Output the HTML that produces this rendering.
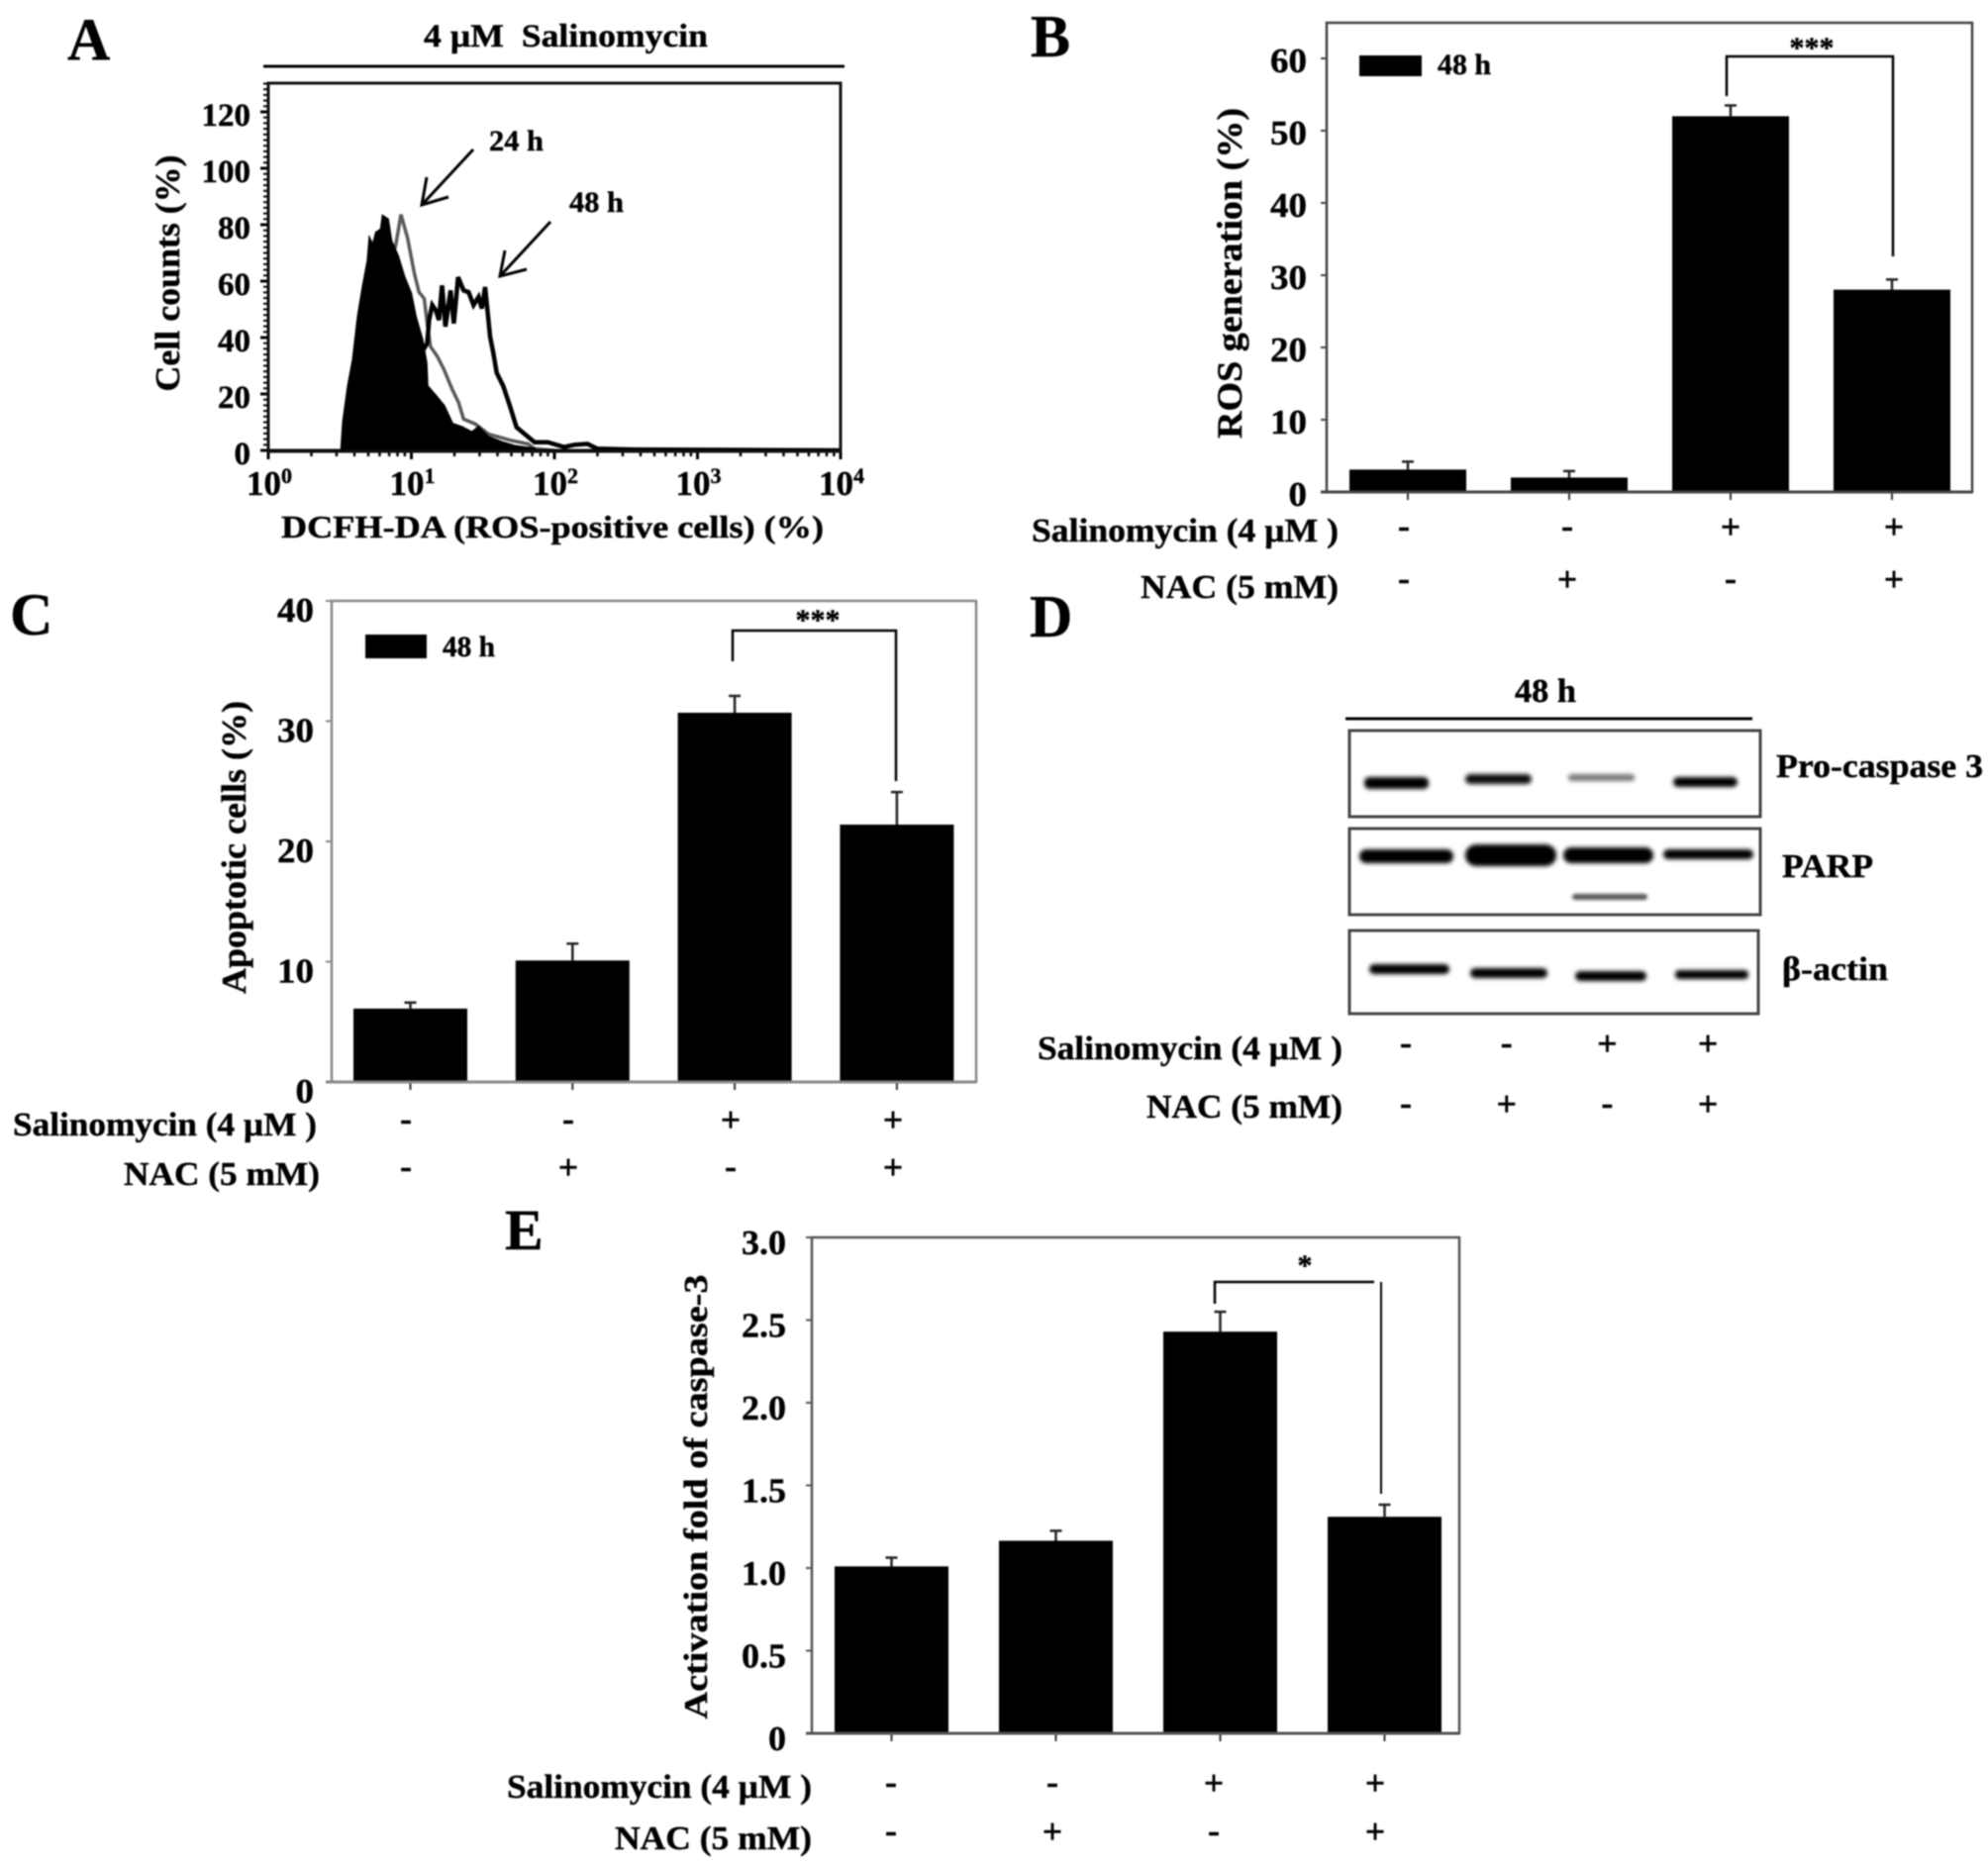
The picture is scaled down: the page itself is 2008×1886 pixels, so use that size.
<!DOCTYPE html>
<html lang="en">
<head>
<meta charset="utf-8">
<title>Salinomycin ROS and apoptosis figure</title>
<style>
html,body{margin:0;padding:0;background:#fff;}
svg{display:block;filter:blur(0.9px);}
text{font-family:"Liberation Serif","DejaVu Serif",serif;font-weight:bold;fill:#000;stroke:#000;stroke-width:0.4px;}
</style>
</head>
<body>
<svg id="figure" xmlns="http://www.w3.org/2000/svg" width="2008" height="1886" viewBox="0 0 2008 1886">
<defs>
<filter id="bandBlur" x="-20%" y="-100%" width="140%" height="300%"><feGaussianBlur stdDeviation="2"/></filter>
<filter id="faintBlur" x="-20%" y="-300%" width="140%" height="700%"><feGaussianBlur stdDeviation="1.5"/></filter>
</defs>
<rect width="2008" height="1886" fill="#fff"/>

<!-- Panel A -->
<g id="panelA">
<text x="68" y="60" font-size="60">A</text>
<text x="428" y="47" font-size="33" textLength="287" lengthAdjust="spacingAndGlyphs">4 µM&#160;&#160;Salinomycin</text>
<line x1="266" x2="853" y1="67" y2="67" stroke="#000" stroke-width="3"/>
<g id="histPlot"></g>
<rect x="271" y="84" width="578" height="372" fill="none" stroke="#111" stroke-width="3"/>
<text transform="rotate(-90 181 276)" x="181" y="276" font-size="35" text-anchor="middle" textLength="239" lengthAdjust="spacingAndGlyphs">Cell counts (%)</text>
<text x="284" y="543" font-size="32" textLength="548" lengthAdjust="spacingAndGlyphs">DCFH-DA (ROS-positive cells) (%)</text>
<text x="494" y="152" font-size="30" textLength="55" lengthAdjust="spacingAndGlyphs">24 h</text>
<text x="575" y="214" font-size="30" textLength="55" lengthAdjust="spacingAndGlyphs">48 h</text>
<g fill="none" stroke="#000" stroke-width="3">
<line x1="478" y1="151" x2="426" y2="207"/><path d="M431 179 L426 207 L453 199"/>
</g>
<g fill="none" stroke="#000" stroke-width="3">
<line x1="556" y1="224" x2="505" y2="279"/><path d="M510 253 L505 279 L532 272"/>
</g>
</g>

<!-- Panel B -->
<g id="panelB">
<text x="1041" y="57" font-size="60">B</text>
<g id="rosPlot"></g>
<rect x="1373" y="56" width="63" height="21" fill="#000"/>
<text x="1452" y="75" font-size="30" textLength="54" lengthAdjust="spacingAndGlyphs">48 h</text>
<path d="M1744 97V57H1912V259" fill="none" stroke="#000" stroke-width="2.5"/>
<text x="1830" y="58" font-size="30" text-anchor="middle">***</text>
<text transform="rotate(-90 1254 276)" x="1254" y="276" font-size="36" text-anchor="middle" textLength="334" lengthAdjust="spacingAndGlyphs">ROS generation (%)</text>
<text x="1042" y="547" font-size="34" textLength="310" lengthAdjust="spacingAndGlyphs">Salinomycin (4 µM )</text>
<text x="1152" y="604" font-size="34" textLength="200" lengthAdjust="spacingAndGlyphs">NAC (5 mM)</text>
</g>

<!-- Panel C -->
<g id="panelC">
<text x="10" y="641" font-size="60">C</text>
<g id="apoPlot"></g>
<rect x="369" y="641" width="62" height="24" fill="#000"/>
<text x="447" y="663" font-size="30" textLength="53" lengthAdjust="spacingAndGlyphs">48 h</text>
<path d="M740 668V637H905V789" fill="none" stroke="#000" stroke-width="2.5"/>
<text x="826" y="636" font-size="30" text-anchor="middle">***</text>
<text transform="rotate(-90 248 856)" x="248" y="856" font-size="35" text-anchor="middle" textLength="296" lengthAdjust="spacingAndGlyphs">Apoptotic cells (%)</text>
<text x="13" y="1147" font-size="34" textLength="307" lengthAdjust="spacingAndGlyphs">Salinomycin (4 µM )</text>
<text x="125" y="1197" font-size="34" textLength="198" lengthAdjust="spacingAndGlyphs">NAC (5 mM)</text>
</g>

<!-- Panel D -->
<g id="panelD">
<text x="1040" y="643" font-size="60">D</text>
<text x="1530" y="709" font-size="34" textLength="62" lengthAdjust="spacingAndGlyphs">48 h</text>
<line x1="1359" x2="1770" y1="726" y2="726" stroke="#000" stroke-width="3"/>
<g id="blot1">
<g filter="url(#bandBlur)">
<rect x="1378" y="785" width="65" height="12" rx="5" fill="#000"/>
<rect x="1480" y="782" width="67" height="10" rx="5" fill="#0a0a0a"/>
<rect x="1584" y="782" width="67" height="7" rx="3" fill="#777"/>
<rect x="1690" y="785" width="65" height="10" rx="5" fill="#000"/>
</g>
<rect x="1363" y="738" width="415" height="87" fill="none" stroke="#444" stroke-width="3"/>
</g>
<g id="blot2">
<g filter="url(#bandBlur)">
<rect x="1373" y="858" width="95" height="14" rx="7" fill="#000"/>
<rect x="1480" y="853" width="92" height="22" rx="11" fill="#000"/>
<rect x="1579" y="856" width="91" height="16" rx="8" fill="#000"/>
<rect x="1680" y="858" width="91" height="10" rx="5" fill="#000"/>
</g>
<rect x="1588" y="903" width="76" height="6" rx="3" fill="#555" filter="url(#faintBlur)"/>
<rect x="1363" y="837" width="415" height="87" fill="none" stroke="#444" stroke-width="3"/>
</g>
<g id="blot3">
<g filter="url(#bandBlur)">
<rect x="1383" y="974" width="81" height="10" rx="5" fill="#000"/>
<rect x="1485" y="978" width="78" height="10" rx="5" fill="#000"/>
<rect x="1591" y="981" width="72" height="10" rx="5" fill="#000"/>
<rect x="1692" y="980" width="74" height="9" rx="4" fill="#000"/>
</g>
<rect x="1363" y="940" width="413" height="84" fill="none" stroke="#444" stroke-width="3"/>
</g>
<text x="1794" y="785" font-size="34" textLength="209" lengthAdjust="spacingAndGlyphs">Pro-caspase 3</text>
<text x="1800" y="886" font-size="34" textLength="92" lengthAdjust="spacingAndGlyphs">PARP</text>
<text x="1800" y="990" font-size="34" textLength="107" lengthAdjust="spacingAndGlyphs">β-actin</text>
<text x="1048" y="1070" font-size="34" textLength="308" lengthAdjust="spacingAndGlyphs">Salinomycin (4 µM )</text>
<text x="1158" y="1129" font-size="34" textLength="198" lengthAdjust="spacingAndGlyphs">NAC (5 mM)</text>
<g id="blotMarks"></g>
</g>

<!-- Panel E -->
<g id="panelE">
<text x="510" y="1262" font-size="58">E</text>
<g id="casPlot"></g>
<path d="M1227 1317V1295H1388" fill="none" stroke="#000" stroke-width="2.5"/>
<line x1="1395" x2="1395" y1="1295" y2="1509" stroke="#000" stroke-width="2"/>
<text x="1318" y="1288" font-size="30" text-anchor="middle">*</text>
<text transform="rotate(-90 714 1512)" x="714" y="1512" font-size="34" text-anchor="middle" textLength="449" lengthAdjust="spacingAndGlyphs">Activation fold of caspase-3</text>
<text x="512" y="1816" font-size="34" textLength="308" lengthAdjust="spacingAndGlyphs">Salinomycin (4 µM )</text>
<text x="621" y="1868" font-size="34" textLength="199" lengthAdjust="spacingAndGlyphs">NAC (5 mM)</text>
</g>
</svg>

<script>
// ---- Shared treatment design ----
const salinomycinMarks = ['-', '-', '+', '+'];
const nacMarks = ['-', '+', '-', '+'];

// ---- Panel B data ----
const rosValues = [3.1, 2.0, 52.0, 28.0];
const rosErrors = [1.1, 0.9, 1.5, 1.4];
const rosTickLabels = ['0', '10', '20', '30', '40', '50', '60'];

// ---- Panel C data ----
const apoValues = [6.1, 10.1, 30.7, 21.4];
const apoErrors = [0.5, 1.4, 1.4, 2.7];
const apoTickLabels = ['0', '10', '20', '30', '40'];

// ---- Panel E data ----
const casValues = [1.01, 1.165, 2.43, 1.31];
const casErrors = [0.053, 0.06, 0.12, 0.073];
const casTickLabels = ['0', '0.5', '1.0', '1.5', '2.0', '2.5', '3.0'];

// ---- Panel A data (fluorescence intensity, cell counts %) ----
const histTickLabels = ['0', '20', '40', '60', '80', '100', '120'];
const histDecades = ['0', '1', '2', '3', '4'];
const controlIntensity = [3.25, 3.34, 3.62, 3.92, 4.24, 4.59, 4.97, 5.11, 5.39, 5.68, 6.15, 6.32, 6.84, 7.21, 8.02, 8.92, 9.92, 10.7, 11.9, 12.7, 12.9, 14.8, 16.9, 19.3, 22.6, 26.5, 29.5, 34.6, 42.7, 52.9, 72.7];
const controlCounts = [0.6, 9.9, 22.8, 32.2, 47.4, 57.9, 67.3, 74.9, 72.5, 77.2, 78.4, 83, 81.9, 74.3, 69, 61.4, 55.6, 47.4, 39.2, 31, 22.8, 19.3, 15.8, 9.4, 8.2, 6.4, 8.2, 4.7, 2.9, 1.5, 0.6];
const h24Intensity = [3.3, 6.0, 7.8, 8.46, 9.4, 10.5, 11.3, 12.3, 12.9, 13.6, 15.2, 16.9, 19.3, 21.4, 23.2, 27.9, 34.6, 50.1, 65.3, 72.7, 100];
const h24Counts = [0, 50, 73.1, 83.6, 75.4, 62.6, 56.1, 53.8, 45, 36.8, 33.3, 28.7, 21.6, 17, 11.1, 9.4, 5.8, 3.5, 2.3, 0.6, 0];
const h48Intensity = [3.3, 8, 12.9, 13.3, 14, 14.8, 15.6, 16.4, 17.3, 18.8, 19.8, 21.2, 23.2, 25.1, 27.2, 29.5, 31.1, 32.8, 34.2, 35.5, 37.4, 39.5, 43.9, 48.8, 54.3, 62, 72.7, 89.9, 117, 138, 170, 199, 358, 10000];
const h48Counts = [0, 20, 38, 46.2, 51.5, 49.7, 46.2, 58.5, 43.9, 56.7, 45, 61.4, 56.7, 56.1, 51.5, 54.4, 50.3, 57.9, 48.5, 40.4, 34.5, 27.5, 22.8, 15.8, 8.2, 5.8, 2.9, 2.9, 1.2, 2, 2.3, 0.6, 0.3, 0];

const NS = 'http://www.w3.org/2000/svg';
function mk(tag, parent) {
  const el = document.createElementNS(NS, tag);
  parent.appendChild(el);
  return el;
}
function setAll(el, attrs) {
  for (const k in attrs) el.setAttribute(k, attrs[k]);
}

// Treatment marks rows
function drawMarks(parent, marks, x0, step, yc) {
  marks.forEach((m, i) => {
    const el = mk('text', parent);
    el.textContent = m;
    setAll(el, {x: x0 + i * step, y: yc + (m === '+' ? 10 : 9), 'font-size': 36, 'text-anchor': 'middle'});
    
    
  });
}

// Bar chart panel
function drawBars(cfg) {
  const g = document.getElementById(cfg.id);
  const tickValues = cfg.tickLabels.map(Number);
  const yMax = tickValues[tickValues.length - 1] * (cfg.topExtra || 1);
  const yScale = v => cfg.bottom - (v / yMax) * (cfg.bottom - cfg.top);
  const xScale = i => cfg.x0 + i * cfg.step;

  const frame = mk('rect', g);
  setAll(frame, {x: cfg.left, y: cfg.top, width: cfg.right - cfg.left, height: cfg.bottom - cfg.top, fill: 'none', stroke: cfg.frameColor, 'stroke-width': 2.5});
  
  

  cfg.values.forEach((v, i) => {
    const cx = xScale(i);
    const err = mk('path', g);
    const yTop = yScale(v + cfg.errors[i]);
    setAll(err, {d: 'M' + cx + ' ' + yScale(v) + 'V' + yTop + 'M' + (cx - 6) + ' ' + yTop + 'H' + (cx + 6), stroke: '#222', 'stroke-width': 2.5, fill: 'none'});
    
    

    const bar = mk('rect', g);
    setAll(bar, {x: cx - cfg.barWidth / 2, y: yScale(v), width: cfg.barWidth, height: cfg.bottom - yScale(v), fill: '#000'});
    
    

    const xt = mk('line', g);
    setAll(xt, {x1: cx, x2: cx, y1: cfg.bottom, y2: cfg.bottom + 8, stroke: '#333', 'stroke-width': 2});
    
    
  });

  const base = mk('line', g);
  setAll(base, {x1: cfg.left - 6, x2: cfg.right, y1: cfg.bottom, y2: cfg.bottom, stroke: cfg.frameColor, 'stroke-width': 3});
  
  

  cfg.tickLabels.forEach(lab => {
    const v = Number(lab);
    const y = yScale(v);
    const tk = mk('line', g);
    setAll(tk, {x1: cfg.left - 6, x2: cfg.left, y1: y, y2: y, stroke: cfg.frameColor, 'stroke-width': 2});
    
    

    const tx = mk('text', g);
    tx.textContent = lab;
    const width = cfg.digitWidth * lab.replace('.', '').length + (lab.includes('.') ? cfg.digitWidth / 2 : 0);
    setAll(tx, {x: cfg.labelRight, y: y + cfg.labelOffset + 12, 'font-size': 35, 'text-anchor': 'end', textLength: width, lengthAdjust: 'spacingAndGlyphs'});
    
    
  });

  drawMarks(g, salinomycinMarks, cfg.markX0, cfg.markStep, cfg.salY);
  drawMarks(g, nacMarks, cfg.markX0, cfg.markStep, cfg.nacY);
}

drawBars({id: 'rosPlot', values: rosValues, errors: rosErrors, tickLabels: rosTickLabels,
  left: 1340, right: 1992, top: 23, bottom: 497, topExtra: 474 / 438, x0: 1422, step: 163, barWidth: 118,
  frameColor: '#444', labelRight: 1320, labelOffset: 2, digitWidth: 18.5, markX0: 1418, markStep: 165, salY: 534, nacY: 587});

drawBars({id: 'apoPlot', values: apoValues, errors: apoErrors, tickLabels: apoTickLabels,
  left: 335, right: 986, top: 607, bottom: 1093, x0: 414.5, step: 163.8, barWidth: 115,
  frameColor: '#888', labelRight: 317, labelOffset: 9, digitWidth: 18.5, markX0: 410, markStep: 164, salY: 1133, nacY: 1181});

drawBars({id: 'casPlot', values: casValues, errors: casErrors, tickLabels: casTickLabels,
  left: 820, right: 1474, top: 1250, bottom: 1751, x0: 900.5, step: 166, barWidth: 115,
  frameColor: '#555', labelRight: 794, labelOffset: 5, digitWidth: 18, markX0: 900, markStep: 163, salY: 1803, nacY: 1852});

// Western blot treatment rows
const blotMarksGroup = document.getElementById('blotMarks');
drawMarks(blotMarksGroup, salinomycinMarks, 1420, 101.7, 1056);
drawMarks(blotMarksGroup, nacMarks, 1420, 101.7, 1117);

// Histogram panel
(function () {
  const g = document.getElementById('histPlot');
  const left = 271, right = 849, bottom = 455, per20 = 57;
  const sx = i => left + (right - left) * Math.log10(i) / 4;
  const sy = c => bottom - c * per20 / 20;
  const toPath = (xs, ys) => xs.map((x, i) => (i ? 'L' : 'M') + sx(x).toFixed(1) + ' ' + sy(ys[i]).toFixed(1)).join('');

  const l24 = mk('path', g);
  setAll(l24, {d: toPath(h24Intensity, h24Counts), fill: 'none', stroke: '#5a5a5a', 'stroke-width': 3.5});
  
  

  const l48 = mk('path', g);
  setAll(l48, {d: toPath(h48Intensity, h48Counts), fill: 'none', stroke: '#000', 'stroke-width': 4.5});
  
  

  const fill = mk('path', g);
  setAll(fill, {d: toPath(controlIntensity, controlCounts) + 'L' + sx(controlIntensity[controlIntensity.length - 1]) + ' ' + bottom + 'L' + sx(controlIntensity[0]) + ' ' + bottom + 'Z', fill: '#000', stroke: '#000', 'stroke-width': 2.5});
  
  

  histTickLabels.forEach(lab => {
    const y = sy(Number(lab));
    const tk = mk('line', g);
    setAll(tk, {x1: 263, x2: 271, y1: y, y2: y, stroke: '#000', 'stroke-width': 3});
    
    
    const tx = mk('text', g);
    tx.textContent = lab;
    setAll(tx, {x: 253, y: y + 14, 'font-size': 33, 'text-anchor': 'end'});
    
    
  });

  for (let c = 0; c <= 130; c += 2) {
    const tk = mk('line', g);
    setAll(tk, {x1: 266, x2: 271, y1: sy(c), y2: sy(c), stroke: '#000', 'stroke-width': 2});
    
    
  }

  histDecades.forEach(d => {
    const base = Math.pow(10, Number(d));
    const x = sx(base);
    const tk = mk('line', g);
    setAll(tk, {x1: x, x2: x, y1: 455, y2: 464, stroke: '#000', 'stroke-width': 3});
    
    
    const tx = mk('text', g);
    setAll(tx, {x: x - 22, y: 500, 'font-size': 35});
    
    
    tx.appendChild(document.createTextNode('10'));
    const sup = mk('tspan', tx);
    setAll(sup, {dy: -12, 'font-size': 22});
    sup.textContent = d;
    
    
    if (Number(d) < 4) {
      for (let m = 2; m <= 9; m++) {
        const mt = mk('line', g);
        setAll(mt, {x1: sx(base * m), x2: sx(base * m), y1: 457, y2: 461, stroke: '#000', 'stroke-width': 2.5});
        
        
      }
    }
  });

  const baseLine = mk('line', g);
  setAll(baseLine, {x1: 271, x2: 849, y1: 455, y2: 455, stroke: '#000', 'stroke-width': 3});
  
  
})();
</script>
</body>
</html>
